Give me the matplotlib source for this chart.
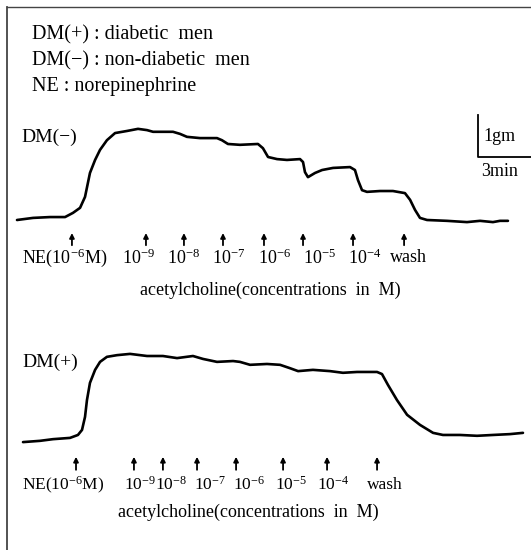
import matplotlib
matplotlib.use('Agg')
import matplotlib.pyplot as plt

# ---- figure geometry (pixels) ----
W, H = 531, 550
PX_MIN = 53 / 3.0   # pixels per minute (3 min scale bar)
PX_G = 42.0         # pixels per gram (1 gm scale bar)
X0 = 17             # pixel where t = 0

# ---- DM(-) trace: time (min) and tension above baseline (g) ----
t_neg = [0.00, 0.91, 1.87, 2.72, 3.17, 3.57, 3.85, 4.13, 4.42, 4.70, 5.09, 5.55,
         6.23, 6.85, 7.36, 7.70, 8.26, 8.83, 9.23, 9.62, 10.36, 11.32, 11.60,
         11.94, 12.62, 13.64, 13.92, 14.21, 14.72, 15.28, 16.02, 16.19, 16.30,
         16.47, 16.87, 17.27, 17.89, 18.85, 19.13, 19.30, 19.53, 19.81, 20.55,
         21.28, 21.96, 22.25, 22.53, 22.81, 23.21, 24.34, 25.47, 26.21, 26.94,
         27.34, 27.79]
g_neg = [0.00, 0.05, 0.07, 0.07, 0.17, 0.29, 0.55, 1.12, 1.43, 1.67, 1.90, 2.07,
         2.12, 2.17, 2.14, 2.10, 2.10, 2.10, 2.05, 1.98, 1.95, 1.95, 1.90,
         1.81, 1.79, 1.81, 1.71, 1.50, 1.45, 1.43, 1.45, 1.38, 1.14,
         1.02, 1.12, 1.19, 1.24, 1.26, 1.19, 0.95, 0.71, 0.67, 0.69,
         0.69, 0.64, 0.48, 0.24, 0.05, 0.00, -0.02, -0.05, -0.02, -0.05,
         -0.02, -0.02]

# ---- DM(+) trace ----
t_pos = [0.34, 1.30, 2.04, 3.00, 3.45, 3.68, 3.85, 3.96, 4.13, 4.42, 4.70, 5.09,
         5.66, 6.40, 7.36, 8.26, 9.06, 9.96, 10.53, 11.32, 12.23, 12.62, 13.19,
         14.15, 14.89, 15.45, 15.91, 16.75, 17.72, 18.45, 19.25, 20.38, 20.66,
         21.00, 21.51, 22.08, 22.81, 23.55, 24.11, 25.07, 26.04, 26.94, 27.90,
         28.64]
g_pos = [-0.05, -0.02, 0.02, 0.05, 0.12, 0.24, 0.55, 0.95, 1.36, 1.67, 1.86, 1.98,
         2.02, 2.05, 2.00, 2.00, 1.95, 2.00, 1.93, 1.86, 1.88, 1.86, 1.79,
         1.81, 1.79, 1.71, 1.64, 1.67, 1.64, 1.60, 1.62, 1.62, 1.57,
         1.31, 0.95, 0.60, 0.36, 0.17, 0.12, 0.12, 0.10, 0.12, 0.14,
         0.17]

# ---- drug additions (min) ----
arrows_neg = [3.11, 7.30, 9.45, 11.66, 13.98, 16.19, 19.02, 21.91]
arrows_pos = [3.34, 6.62, 8.26, 10.19, 12.40, 15.06, 17.55, 20.38]
dose_labels = ['NE(10$^{-6}$M)', '10$^{-9}$', '10$^{-8}$', '10$^{-7}$',
               '10$^{-6}$', '10$^{-5}$', '10$^{-4}$', 'wash']
label_x_neg = [22, 122, 167, 212, 258, 303, 348, 390]
label_x_pos = [22, 124, 155, 194, 233, 275, 317, 367]

legend_lines = ['DM(+) : diabetic  men', 'DM(\u2212) : non-diabetic  men',
                'NE : norepinephrine']

plt.rcParams['font.family'] = ['Liberation Serif', 'DejaVu Serif']
plt.rcParams['mathtext.fontset'] = 'custom'
plt.rcParams['mathtext.rm'] = 'Liberation Serif'
plt.rcParams['mathtext.it'] = 'Liberation Serif:italic'
plt.rcParams['mathtext.bf'] = 'Liberation Serif:bold'

fig = plt.figure(figsize=(W / 100, H / 100), dpi=100)
fig.patch.set_facecolor('white')


def fx(px):
    return px / W


def fy(py):
    return 1 - py / H


def trace_axes(base_px, lo, hi):
    bottom = fy(base_px - lo * PX_G)
    height = (hi - lo) * PX_G / H
    ax = fig.add_axes([0, bottom, 1, height])
    ax.set_xlim(-X0 / PX_MIN, (W - X0) / PX_MIN)
    ax.set_ylim(lo, hi)
    ax.axis('off')
    return ax


ax1 = trace_axes(220, -1.0, 3.2)
ax2 = trace_axes(440, -1.0, 3.2)

for ax, t, g in [(ax1, t_neg, g_neg), (ax2, t_pos, g_pos)]:
    ax.plot(t, g, color='black', lw=1.9, solid_joinstyle='round',
            solid_capstyle='round', clip_on=False)

# arrows
for ax, xs, tail, head in [(ax1, arrows_neg, -0.60, -0.31),
                           (ax2, arrows_pos, -0.71, -0.40)]:
    for x in xs:
        ax.annotate('', xy=(x, head), xytext=(x, tail),
                    arrowprops=dict(arrowstyle='-|>', color='black', lw=1.3,
                                    mutation_scale=7, shrinkA=0, shrinkB=0))

# scale bar on the DM(-) panel
sb_t = (478 - X0) / PX_MIN
ax1.plot([sb_t, sb_t, sb_t + 3], [2.5, 1.5, 1.5], color='black', lw=1.3,
         clip_on=False)
fig.text(fx(483), fy(137), '1gm', fontsize=13, va='center', ha='left')
fig.text(fx(481), fy(172), '3min', fontsize=13, va='center', ha='left')

# legend text
for i, line in enumerate(legend_lines):
    fig.text(fx(32), fy(35 + i * 26), line, fontsize=14.5, va='center', ha='left')

fig.text(fx(21), fy(137), 'DM(\u2212)', fontsize=14, va='center', ha='left')
fig.text(fx(22), fy(362), 'DM(+)', fontsize=14, va='center', ha='left')

for xs, y, fs in [(label_x_neg, 258, 13), (label_x_pos, 485, 12.5)]:
    for x, lab in zip(xs, dose_labels):
        fig.text(fx(x), fy(y), lab, fontsize=fs, va='center', ha='left')

fig.text(fx(140), fy(290), 'acetylcholine(concentrations  in  M)', fontsize=13,
         va='center', ha='left')
fig.text(fx(118), fy(512), 'acetylcholine(concentrations  in  M)', fontsize=13,
         va='center', ha='left')

# frame (left and top edges only)
fig.add_artist(plt.Line2D([fx(7), fx(7)], [fy(7), 0], color='#444444', lw=1.3))
fig.add_artist(plt.Line2D([fx(7), 1], [fy(7), fy(7)], color='#444444', lw=1.0))

fig.savefig('out.png', dpi=100, facecolor='white')
